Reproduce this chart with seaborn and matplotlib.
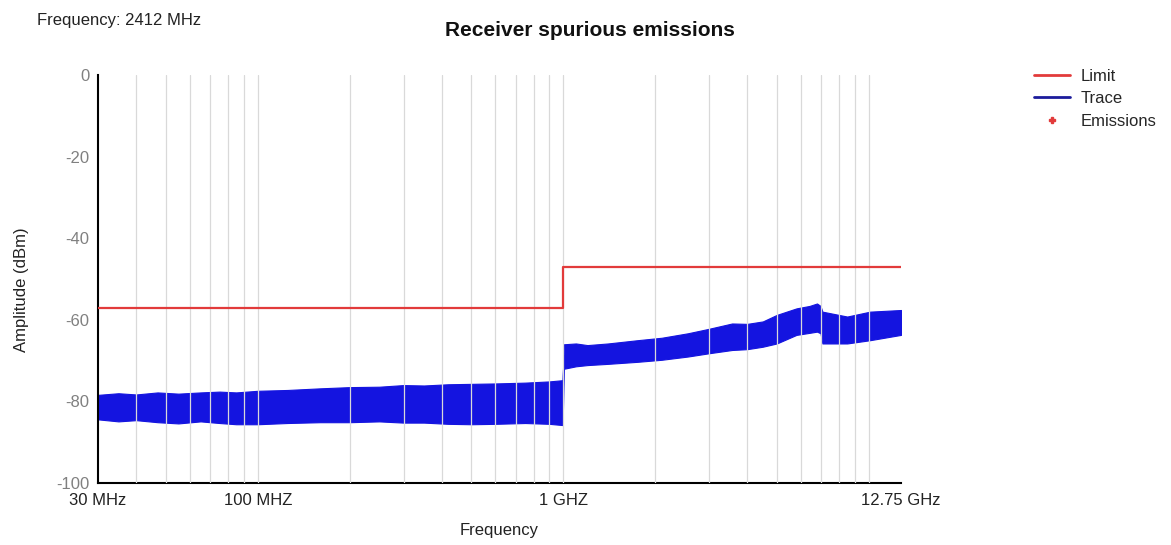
import numpy as np
import pandas as pd
import matplotlib
matplotlib.use("Agg")
import matplotlib.pyplot as plt
import seaborn as sns
from matplotlib.lines import Line2D
from matplotlib.ticker import FixedLocator, NullFormatter

# ---------------- data ----------------
title = "Receiver spurious emissions"
subtitle = "Frequency: 2412 MHz"

limit_freq_mhz = [30, 1000, 12750]
limit_dbm = [-57, -47, -47]

trace_freq_mhz = [30, 35, 40, 47, 55, 65, 75, 85, 100, 125, 160, 200, 250,
                  300, 350, 420, 500, 600, 750, 900, 995,
                  1005, 1100, 1200, 1400, 1750, 2100, 2560, 3000, 3570, 4000,
                  4500, 5000, 5800, 6400, 6770, 6950, 7050, 8500, 10100, 12750]
trace_top_dbm = [-78.4, -78.0, -78.3, -77.8, -78.1, -77.8, -77.6, -77.8, -77.4,
                 -77.2, -76.8, -76.5, -76.4, -76.0, -76.1, -75.8, -75.7, -75.6,
                 -75.4, -75.1, -74.8,
                 -66.0, -65.8, -66.2, -65.8, -65.0, -64.4, -63.3, -62.2, -60.9,
                 -61.0, -60.4, -58.8, -57.2, -56.6, -56.0, -56.6, -58.0, -59.2,
                 -58.0, -57.6]
trace_bottom_dbm = [-84.4, -84.9, -84.6, -85.1, -85.4, -84.9, -85.3, -85.6, -85.6,
                    -85.3, -85.1, -85.1, -84.9, -85.2, -85.2, -85.5, -85.6, -85.5,
                    -85.3, -85.5, -85.8,
                    -72.0, -71.4, -71.1, -70.8, -70.3, -69.8, -69.0, -68.2, -67.4,
                    -67.2, -66.6, -65.8, -63.7, -63.2, -62.9, -63.3, -65.8, -65.8,
                    -65.0, -63.7]

xtick_freq_mhz = [30, 100, 1000, 12750]
xtick_labels = ["30 MHz", "100 MHZ", "1 GHZ", "12.75 GHz"]
ytick_values = [0, -20, -40, -60, -80, -100]
grid_freq_mhz = [40, 50, 60, 70, 80, 90, 100, 200, 300, 400, 500, 600, 700, 800,
                 900, 1000, 2000, 3000, 4000, 5000, 6000, 7000, 8000, 9000, 10000]

legend_labels = ["Limit", "Trace", "Emissions"]

# ---------------- style ----------------
sns.set_theme(style="white")
plt.rcParams["font.family"] = ["Liberation Sans", "DejaVu Sans"]
plt.rcParams["axes.unicode_minus"] = False

LIMIT_C = "#e23b3b"
TRACE_C = "#1414e0"

W, H = 1171, 545
fig = plt.figure(figsize=(W / 100, H / 100), dpi=100)
ax = fig.add_axes([98 / W, 1 - 483 / H, 803 / W, 408 / H])
ax.set_xscale("log")

trace_df = pd.DataFrame({
    "freq": trace_freq_mhz + trace_freq_mhz,
    "dbm": trace_top_dbm + trace_bottom_dbm,
})
sns.lineplot(data=trace_df, x="freq", y="dbm", estimator="mean",
             errorbar=("pi", 100), color=TRACE_C, linewidth=0.8,
             err_kws={"alpha": 1, "linewidth": 0.8, "edgecolor": TRACE_C},
             ax=ax)

sns.lineplot(x=limit_freq_mhz, y=limit_dbm, drawstyle="steps-post",
             color=LIMIT_C, linewidth=1.6, ax=ax, zorder=3)

ax.set_xlim(30, 12750)
ax.set_ylim(-100, 0)

ax.xaxis.set_major_locator(FixedLocator(xtick_freq_mhz))
ax.set_xticklabels(xtick_labels)
ax.xaxis.set_minor_locator(FixedLocator(grid_freq_mhz))
ax.xaxis.set_minor_formatter(NullFormatter())
ax.xaxis.remove_overlapping_locs = False
ax.set_yticks(ytick_values)

ax.grid(False)
ax.grid(True, which="minor", axis="x", color="#d9d9d9", linewidth=0.9)
ax.set_axisbelow(False)

ax.tick_params(axis="both", which="both", length=0)
ax.tick_params(axis="x", labelsize=12, labelcolor="#222222", pad=7)
ax.tick_params(axis="y", labelsize=12, labelcolor="#808080", pad=6)

for s in ["top", "right"]:
    ax.spines[s].set_visible(False)
for s in ["left", "bottom"]:
    ax.spines[s].set_color("black")
    ax.spines[s].set_linewidth(1.5)

ax.set_xlabel("Frequency", fontsize=12, color="#222222")
ax.set_ylabel("Amplitude (dBm)", fontsize=12, color="#222222")
ax.xaxis.set_label_coords((499 - 98) / 803, -(523 - 483) / 408)
ax.yaxis.set_label_coords((29 - 98) / 803, (483 - 290) / 408)

fig.text(590 / W, 1 - 30 / H, title, ha="center", va="center",
         fontsize=15, fontweight="bold", color="#111111")
fig.text(37 / W, 1 - 20 / H, subtitle, ha="left", va="center",
         fontsize=12, color="#222222")

handles = [
    Line2D([], [], color=LIMIT_C, linewidth=2),
    Line2D([], [], color="#1c1c9c", linewidth=2),
    Line2D([], [], color=LIMIT_C, linestyle="none", marker="P", markersize=5),
]
fig.legend(handles, legend_labels, loc="upper left",
           bbox_to_anchor=(1027 / W, 1 - 62 / H), frameon=False,
           fontsize=12, handlelength=2.2, handletextpad=0.6,
           labelspacing=0.45, borderaxespad=0)

fig.savefig("out.png", dpi=100)
